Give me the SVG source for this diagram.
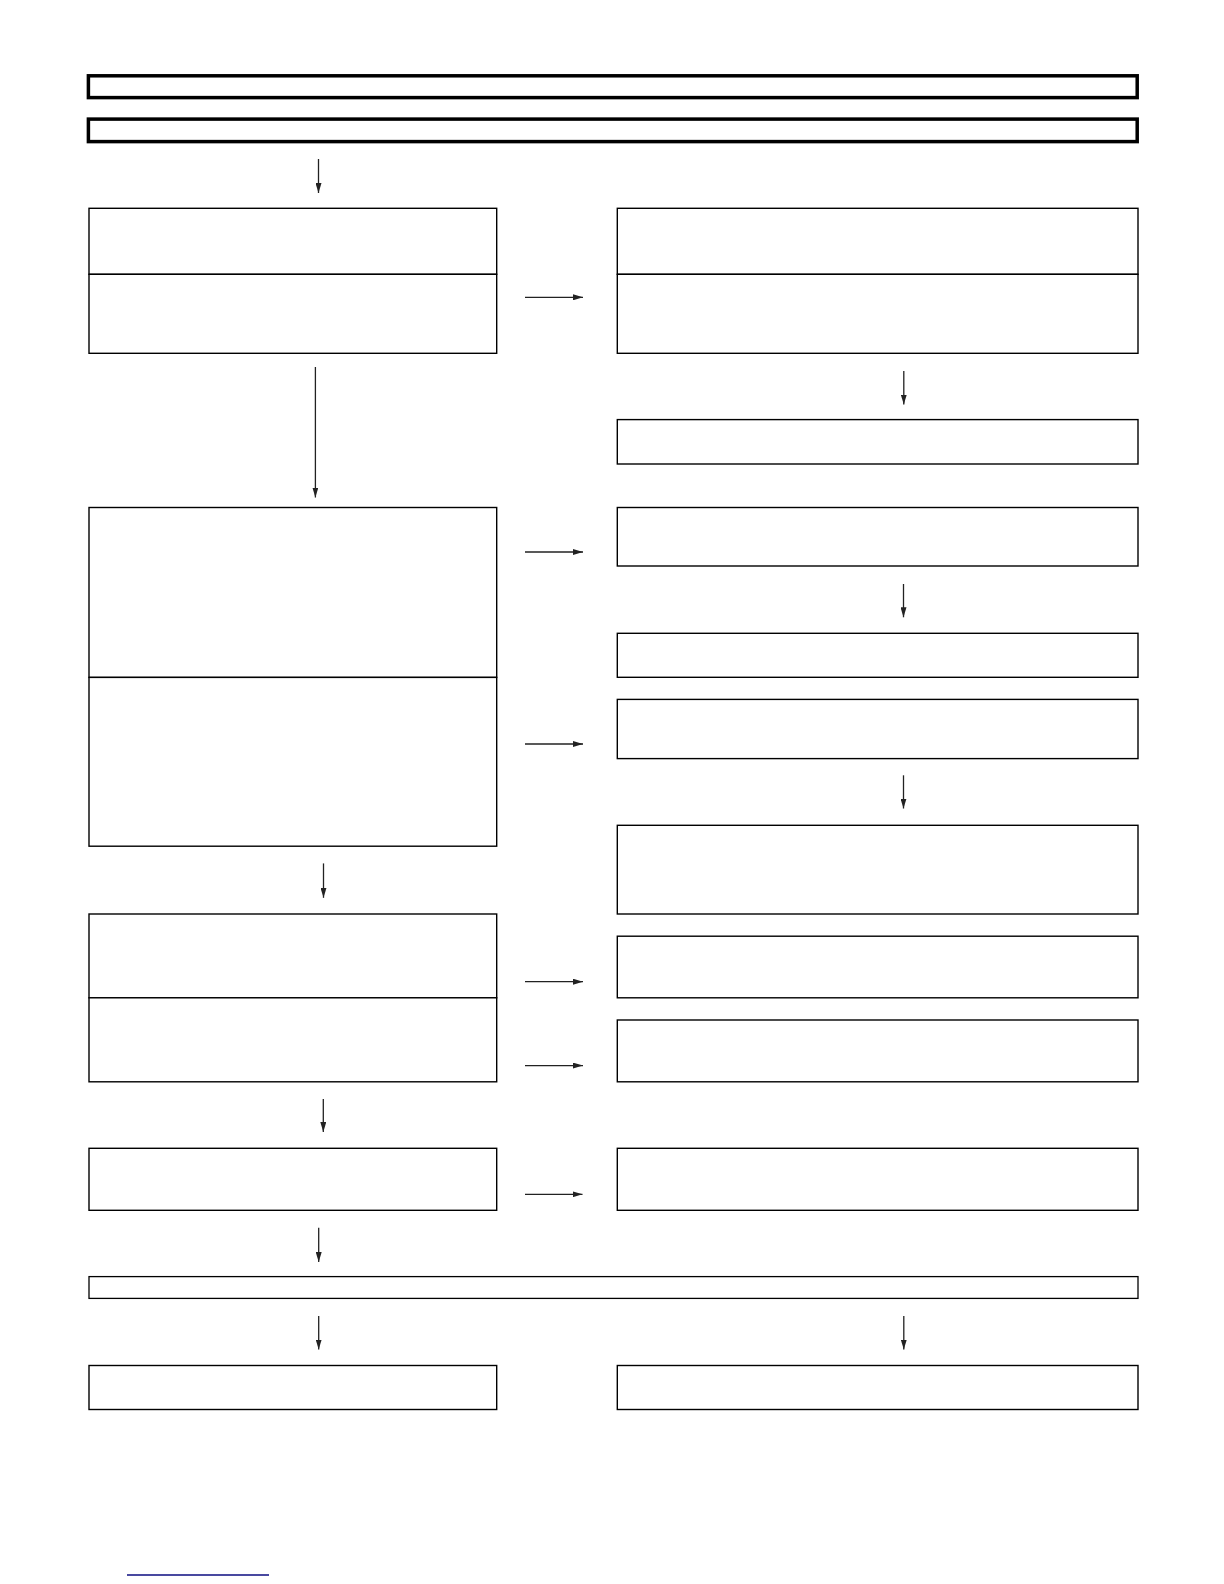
<svg xmlns="http://www.w3.org/2000/svg" width="1224" height="1584" viewBox="0 0 1224 1584">
<style>
.bar{fill:#fff;stroke:#000;stroke-width:3.5}
.box{fill:#fff;stroke:#000;stroke-width:1.4}
.thin{fill:#fff;stroke:#000;stroke-width:1.3}
.conn line{stroke:#222;stroke-width:1.3;marker-end:url(#ah)}
</style>
<defs>
<marker id="ah" viewBox="0 0 10 6" refX="10" refY="3" markerWidth="10" markerHeight="6" markerUnits="userSpaceOnUse" orient="auto">
<path d="M0,0 L10,3 L0,6 z" fill="#222"/>
</marker>
</defs>
<rect width="1224" height="1584" fill="#fff"/>
<g id="title1"><rect class="bar" x="88.4" y="75.8" width="1048.8" height="21.8"/></g>
<g id="title2"><rect class="bar" x="88.4" y="119.1" width="1048.8" height="22.5"/></g>

<g id="nodeA1"><rect class="box" x="89" y="208.3" width="407.7" height="66"/></g>
<g id="nodeA2"><rect class="box" x="89" y="274.3" width="407.7" height="79"/></g>
<g id="nodeB1"><rect class="box" x="617.3" y="208.3" width="520.7" height="66"/></g>
<g id="nodeB2"><rect class="box" x="617.3" y="274.3" width="520.7" height="79"/></g>
<g id="nodeC"><rect class="box" x="617.3" y="419.6" width="520.7" height="44.4"/></g>
<g id="nodeD1"><rect class="box" x="89" y="507.5" width="407.7" height="169.9"/></g>
<g id="nodeD2"><rect class="box" x="89" y="677.4" width="407.7" height="168.8"/></g>
<g id="nodeE"><rect class="box" x="617.3" y="507.5" width="520.7" height="58.5"/></g>
<g id="nodeF"><rect class="box" x="617.3" y="633.3" width="520.7" height="44"/></g>
<g id="nodeG"><rect class="box" x="617.3" y="699.4" width="520.7" height="59.2"/></g>
<g id="nodeH"><rect class="box" x="617.3" y="825.3" width="520.7" height="88.7"/></g>
<g id="nodeI1"><rect class="box" x="89" y="914" width="407.7" height="83.8"/></g>
<g id="nodeI2"><rect class="box" x="89" y="997.8" width="407.7" height="84"/></g>
<g id="nodeJ"><rect class="box" x="617.3" y="936.2" width="520.7" height="61.6"/></g>
<g id="nodeK"><rect class="box" x="617.3" y="1020" width="520.7" height="61.8"/></g>
<g id="nodeL"><rect class="box" x="89" y="1148.3" width="407.7" height="62"/></g>
<g id="nodeM"><rect class="box" x="617.3" y="1148.3" width="520.7" height="62"/></g>
<g id="nodeBar"><rect class="thin" x="89" y="1276.6" width="1049" height="21.8"/></g>
<g id="nodeN"><rect class="box" x="89" y="1365.5" width="407.7" height="44"/></g>
<g id="nodeO"><rect class="box" x="617.3" y="1365.5" width="520.7" height="44"/></g>

<g id="connectors" class="conn">
<line x1="318.5" y1="159" x2="318.5" y2="193"/>
<line x1="525" y1="297.3" x2="583" y2="297.3"/>
<line x1="903.8" y1="371" x2="903.8" y2="404.5"/>
<line x1="315.4" y1="367" x2="315.4" y2="497.5"/>
<line x1="525" y1="552" x2="583" y2="552"/>
<line x1="903.5" y1="584" x2="903.5" y2="617.3"/>
<line x1="525" y1="744" x2="583" y2="744"/>
<line x1="903.5" y1="775.3" x2="903.5" y2="808.5"/>
<line x1="323.5" y1="863.4" x2="323.5" y2="897.8"/>
<line x1="525" y1="981.7" x2="583" y2="981.7"/>
<line x1="525" y1="1065.6" x2="583" y2="1065.6"/>
<line x1="323.3" y1="1099" x2="323.3" y2="1132"/>
<line x1="525" y1="1194.3" x2="582.5" y2="1194.3"/>
<line x1="318.7" y1="1227.7" x2="318.7" y2="1262"/>
<line x1="318.7" y1="1316" x2="318.7" y2="1349.5"/>
<line x1="903.8" y1="1316" x2="903.8" y2="1349.5"/>
</g>
<line x1="127" y1="1575" x2="269" y2="1575" stroke="#0c0c80" stroke-width="1.6"/>
</svg>
